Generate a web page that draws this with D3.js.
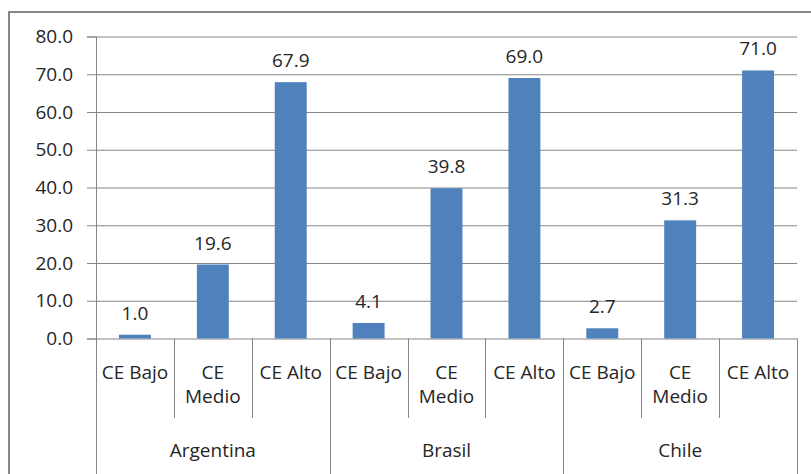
<!DOCTYPE html>
<html>
<head>
<meta charset="utf-8">
<script src="https://cdn.jsdelivr.net/npm/d3@7"></script>
<style>
  html, body { margin: 0; padding: 0; background: #fff; overflow: hidden; }
  svg { display: block; }
  text { font-family: "Open Sans", sans-serif; fill: #262626; }
</style>
</head>
<body>
<svg id="chart" width="811" height="474"></svg>
<script>
// Countries and the three CE levels shown under each
const countries = ["Argentina", "Brasil", "Chile"];
const levels = ["CE Bajo", "CE Medio", "CE Alto"];
// Percentages per country, in level order
const argentina = [1.0, 19.6, 67.9];
const brasil = [4.1, 39.8, 69.0];
const chile = [2.7, 31.3, 71.0];
const yTicks = [0, 10, 20, 30, 40, 50, 60, 70, 80];

const seriesByCountry = [argentina, brasil, chile];
const rows = [];
countries.forEach((c, i) => {
  levels.forEach((l, j) => {
    rows.push({ key: c + "|" + l, country: c, level: l, value: seriesByCountry[i][j] });
  });
});

const svg = d3.select("#chart");
const plotLeft = 96, plotRight = 797, plotTop = 36.5, plotBottom = 338.5;
const fontSize = 19;
const barColor = "#4F81BD";
const lineColor = "#868686";

const x = d3.scaleBand().domain(rows.map(d => d.key)).range([plotLeft, plotRight]).paddingInner(0).paddingOuter(0);
const y = d3.scaleLinear().domain([0, 80]).range([plotBottom, plotTop]);
const bw = x.bandwidth();
const barW = bw * 0.41;

// Chart frame: left and top edges (the rest runs past the canvas)
svg.append("path")
  .attr("d", "M9,474 L9,12 L811,12")
  .attr("fill", "none").attr("stroke", lineColor).attr("stroke-width", 2);

// Horizontal gridlines with tick marks
const yAxis = d3.axisLeft(y).tickValues(yTicks).tickSize(9).tickFormat(d3.format(".1f"));
const gy = svg.append("g").attr("transform", `translate(${plotLeft},0)`).call(yAxis);
gy.select(".domain").attr("stroke", lineColor);
gy.selectAll(".tick line").attr("stroke", lineColor);
gy.selectAll(".tick text")
  .attr("x", -23)
  .style("font-size", fontSize + "px")
  .style("font-family", "'Open Sans', sans-serif")
  .attr("fill", "#262626");
gy.selectAll(".tick").append("line")
  .attr("x1", 0).attr("x2", plotRight - plotLeft)
  .attr("stroke", lineColor).attr("stroke-width", 1);

// Bars
svg.append("g").selectAll("rect").data(rows).join("rect")
  .attr("x", d => x(d.key) + (bw - barW) / 2)
  .attr("y", d => y(d.value))
  .attr("width", barW)
  .attr("height", d => y(0) - y(d.value))
  .attr("fill", barColor);

// Value labels
svg.append("g").selectAll("text").data(rows).join("text")
  .attr("x", d => x(d.key) + bw / 2)
  .attr("y", d => y(d.value) - 15)
  .attr("text-anchor", "middle")
  .style("font-size", fontSize + "px")
  .text(d => d.value.toFixed(1));

// Category axis: dividers between levels and between countries
const cat = svg.append("g");
const edges = rows.map(d => x(d.key)).concat([plotRight]);
edges.forEach((ex, i) => {
  const groupEdge = i % 3 === 0;
  cat.append("line")
    .attr("x1", Math.round(ex) + 0.5).attr("x2", Math.round(ex) + 0.5)
    .attr("y1", plotBottom).attr("y2", groupEdge ? 474 : 418)
    .attr("stroke", lineColor);
});

// Level labels (wrapped onto two lines when needed)
rows.forEach(d => {
  const cx = x(d.key) + bw / 2;
  const words = d.level === "CE Medio" ? ["CE", "Medio"] : [d.level];
  const t = cat.append("text")
    .attr("text-anchor", "middle")
    .style("font-size", fontSize + "px");
  words.forEach((w, i) => {
    t.append("tspan").attr("x", cx).attr("y", 379 + i * 24).text(w);
  });
});

// Country labels
countries.forEach((c, i) => {
  const x0 = x(c + "|" + levels[0]);
  const x1 = x(c + "|" + levels[2]) + bw;
  cat.append("text")
    .attr("x", (x0 + x1) / 2).attr("y", 457)
    .attr("text-anchor", "middle")
    .style("font-size", fontSize + "px")
    .text(c);
});
</script>
</body>
</html>
